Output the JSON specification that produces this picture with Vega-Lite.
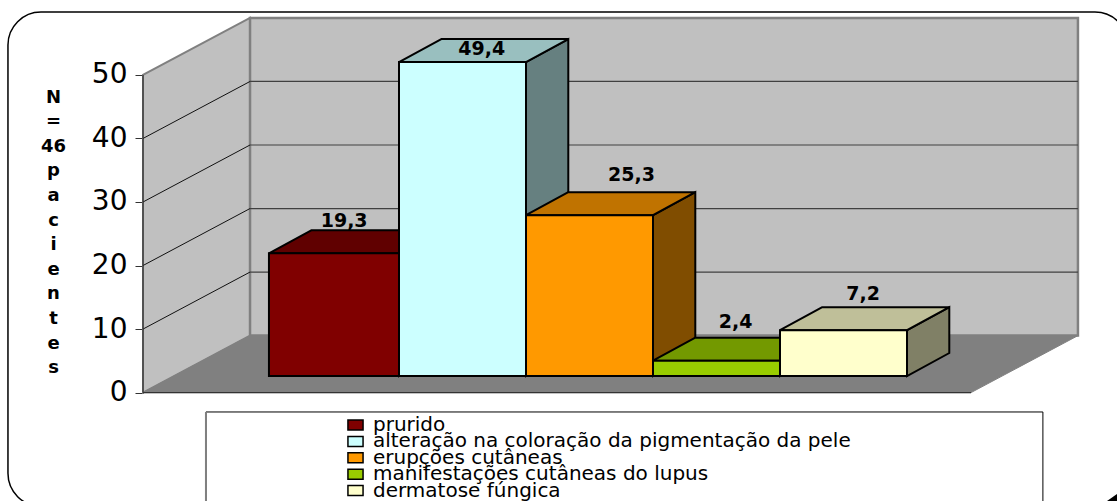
{"$schema":"https://vega.github.io/schema/vega-lite/v6.json","width":1117,"height":501,"padding":0,"autosize":{"type":"none"},"background":"white",
"config":{"view":{"stroke":null},"locale":{"number":{"decimal":",","thousands":".","grouping":[3],"currency":["",""]}}},
"datasets":{"barras":[
{"categoria":"prurido","valor":19.3,"inicio":-0.024,"fim":1},
{"categoria":"alteração na coloração da pigmentação da pele","valor":49.4,"inicio":1,"fim":2},
{"categoria":"erupções cutâneas","valor":25.3,"inicio":2,"fim":3},
{"categoria":"manifestações cutâneas do lupus","valor":2.4,"inicio":3,"fim":4},
{"categoria":"dermatose fúngica","valor":7.2,"inicio":4,"fim":5}],
"marcas":[{"marca":10},{"marca":20},{"marca":30},{"marca":40}],
"um":[{"id":1}]},
"data":{"name":"um"},
"encoding":{
"x":{"field":"xs","type":"quantitative","scale":{"domain":[-2.1417,6.6535],"nice":false,"zero":false},"axis":null},
"y":{"field":"ys","type":"quantitative","scale":{"domain":[-17.06,61.79],"nice":false,"zero":false},
"axis":{"values":[0,10,20,30,40,50],"offset":-143,"grid":false,"domain":false,"tickSize":8,"tickColor":"#333333","tickWidth":1,"labelPadding":8,"labelFont":"DejaVu Sans","labelFontSize":28,"labelColor":"black","labelOverlap":false,"labelFlush":false,
"title":["N","=","46","p","a","c","i","e","n","t","e","s"],"titleAngle":0,"titleFont":"DejaVu Sans","titleFontWeight":"bold","titleFontSize":18,"titleLineHeight":24.6,"titleColor":"black","titleX":-90,"titleY":97,"titleAlign":"center","titleBaseline":"middle"}}},
"layer":[
{"transform":[{"calculate":"-2.079","as":"xs"},{"calculate":"6.74","as":"xs2"},{"calculate":"59.9","as":"ys"},{"calculate":"-17.9","as":"ys2"}],
"mark":{"type":"rect","fill":"transparent","stroke":"black","strokeWidth":1.5,"cornerRadius":33},"encoding":{"x2":{"field":"xs2"},"y2":{"field":"ys2"}}},
{"transform":[{"calculate":"[0,1]","as":"d"},{"flatten":["d"]},{"calculate":"6.575+datum.d*0.0785","as":"xs"},{"calculate":"-17.06+datum.d*1.1","as":"ys"},{"calculate":"-17.06","as":"ys2"}],
"mark":{"type":"area","orient":"vertical","fill":"black"},"encoding":{"y2":{"field":"ys2"}}},
{"transform":[{"calculate":"[0,1]","as":"d"},{"flatten":["d"]},{"calculate":"-1.0157+datum.d*0.8425","as":"xs"},{"calculate":"datum.d*8.97","as":"ys"},{"calculate":"50+datum.d*8.97","as":"ys2"}],
"mark":{"type":"area","orient":"vertical","fill":"#c0c0c0","stroke":"#808080","strokeWidth":2},"encoding":{"y2":{"field":"ys2"}}},
{"transform":[{"calculate":"-0.173","as":"xs"},{"calculate":"6.346","as":"xs2"},{"calculate":"8.97","as":"ys"},{"calculate":"58.97","as":"ys2"}],
"mark":{"type":"rect","fill":"#c0c0c0","stroke":"#808080","strokeWidth":2.5},"encoding":{"x2":{"field":"xs2"},"y2":{"field":"ys2"}}},
{"transform":[{"calculate":"[0,1]","as":"d"},{"flatten":["d"]},{"calculate":"-1.0157+datum.d*0.8425","as":"xs"},{"calculate":"5.504+datum.d*0.8425","as":"xs2"},{"calculate":"datum.d*8.97","as":"ys"}],
"mark":{"type":"area","orient":"horizontal","fill":"#808080","stroke":"#808080","strokeWidth":1},"encoding":{"x2":{"field":"xs2"}}},
{"data":{"name":"marcas"},"transform":[{"calculate":"-0.173","as":"xs"},{"calculate":"6.346","as":"xs2"},{"calculate":"datum.marca+8.97","as":"ys"}],
"mark":{"type":"rule","color":"#404040","strokeWidth":1.2},"encoding":{"x2":{"field":"xs2"}}},
{"data":{"name":"marcas"},"transform":[{"calculate":"-1.0157","as":"xs"},{"calculate":"-0.173","as":"xs2"},{"calculate":"datum.marca","as":"ys"},{"calculate":"datum.marca+8.97","as":"ys2"}],
"mark":{"type":"rule","color":"#111111","strokeWidth":1},"encoding":{"x2":{"field":"xs2"},"y2":{"field":"ys2"}}},
{"transform":[{"calculate":"-1.0157","as":"xs"},{"calculate":"0","as":"ys"},{"calculate":"50","as":"ys2"}],
"mark":{"type":"rule","color":"#333333","strokeWidth":1.2},"encoding":{"y2":{"field":"ys2"}}},
{"transform":[{"calculate":"-1.0157","as":"xs"},{"calculate":"5.504","as":"xs2"},{"calculate":"0","as":"ys"}],
"mark":{"type":"rule","color":"#333333","strokeWidth":1.2},"encoding":{"x2":{"field":"xs2"}}},
{"data":{"name":"barras"},"transform":[{"calculate":"[0,1]","as":"d"},{"flatten":["d"]},{"calculate":"datum.fim+datum.d*0.333","as":"xs"},{"calculate":"datum.valor+2.62+datum.d*3.62","as":"ys"},{"calculate":"2.61+datum.d*3.62","as":"ys2"}],
"mark":{"type":"area","orient":"vertical","stroke":"black","strokeWidth":2,"strokeJoin":"miter"},
"encoding":{"y2":{"field":"ys2"},"detail":{"field":"categoria"},
"fill":{"field":"categoria","type":"nominal","legend":null,"scale":{"domain":["prurido","alteração na coloração da pigmentação da pele","erupções cutâneas","manifestações cutâneas do lupus","dermatose fúngica"],"range":["#400000","#668080","#804D00","#4D6600","#808066"]}}}},
{"data":{"name":"barras"},"transform":[{"calculate":"[0,1]","as":"d"},{"flatten":["d"]},{"calculate":"datum.inicio+datum.d*0.333","as":"xs"},{"calculate":"datum.fim+datum.d*0.333","as":"xs2"},{"calculate":"datum.valor+2.62+datum.d*3.62","as":"ys"}],
"mark":{"type":"area","orient":"horizontal","stroke":"black","strokeWidth":2,"strokeJoin":"miter"},
"encoding":{"x2":{"field":"xs2"},"detail":{"field":"categoria"},
"fill":{"field":"categoria","type":"nominal","legend":null,"scale":{"domain":["prurido","alteração na coloração da pigmentação da pele","erupções cutâneas","manifestações cutâneas do lupus","dermatose fúngica"],"range":["#600000","#99BFBF","#C07300","#739900","#BFBF99"]}}}},
{"data":{"name":"um"},"transform":[{"calculate":"-0.52","as":"xs"},{"calculate":"6.07","as":"xs2"},{"calculate":"-3.05","as":"ys"},{"calculate":"-18","as":"ys2"}],
"mark":{"type":"rect","fill":"white","stroke":"black","strokeWidth":1},"encoding":{"x2":{"field":"xs2"},"y2":{"field":"ys2"}}},
{"data":{"name":"um"},"transform":[{"calculate":"-0.52","as":"xs"},{"calculate":"-3.05","as":"ys"},{"calculate":"-18","as":"ys2"}],
"mark":{"type":"rule","color":"#808080","strokeWidth":2},"encoding":{"y2":{"field":"ys2"}}},
{"data":{"name":"barras"},"transform":[{"calculate":"datum.inicio","as":"xs"},{"calculate":"datum.fim","as":"xs2"},{"calculate":"datum.valor+2.62","as":"ys"},{"calculate":"2.61","as":"ys2"}],
"mark":{"type":"rect","stroke":"black","strokeWidth":2},
"encoding":{"x2":{"field":"xs2"},"y2":{"field":"ys2"},
"color":{"field":"categoria","type":"nominal","legend":null,"scale":{"domain":["prurido","alteração na coloração da pigmentação da pele","erupções cutâneas","manifestações cutâneas do lupus","dermatose fúngica"],"range":["#800000","#CCFFFF","#FF9900","#99CC00","#FFFFCC"]}}}},
{"data":{"name":"barras"},"transform":[{"calculate":"0.598","as":"xs"},{"calculate":"0.717","as":"xs2"},{"calculate":"-5.1-2.581*(datum.fim-1)+0.79","as":"ys"},{"calculate":"-5.1-2.581*(datum.fim-1)-0.79","as":"ys2"}],
"mark":{"type":"rect","stroke":"black","strokeWidth":1.5},
"encoding":{"x2":{"field":"xs2"},"y2":{"field":"ys2"},
"color":{"field":"categoria","type":"nominal","legend":null}}},
{"data":{"name":"barras"},"transform":[{"calculate":"0.795","as":"xs"},{"calculate":"-5.1-2.581*(datum.fim-1)","as":"ys"}],
"mark":{"type":"text","font":"DejaVu Sans","fontSize":20,"color":"black","align":"left","baseline":"middle"},
"encoding":{"text":{"field":"categoria","type":"nominal"}}},
{"data":{"name":"barras"},"transform":[{"calculate":"(datum.inicio+datum.fim)/2+{'prurido':0.08,'alteração na coloração da pigmentação da pele':0.152,'erupções cutâneas':0.33,'manifestações cutâneas do lupus':0.15,'dermatose fúngica':0.155}[datum.categoria]","as":"xs"},{"calculate":"datum.valor+2.62+{'prurido':5.08,'alteração na coloração da pigmentação da pele':2.09,'erupções cutâneas':6.34,'manifestações cutâneas do lupus':6.07,'dermatose fúngica':5.67}[datum.categoria]","as":"ys"}],
"mark":{"type":"text","font":"DejaVu Sans","fontWeight":"bold","fontSize":19,"color":"black","align":"center","baseline":"middle"},
"encoding":{"text":{"field":"valor","type":"quantitative","format":".1f"}}}
],
"resolve":{"scale":{"fill":"independent"}}}
